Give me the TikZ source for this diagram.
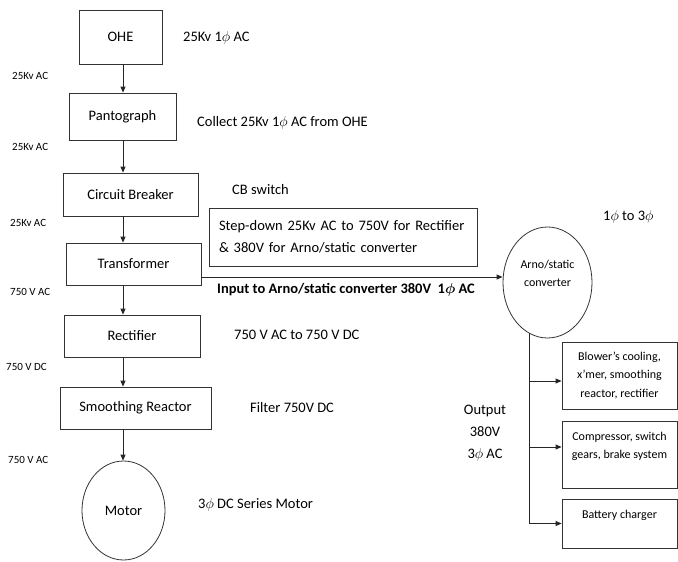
\documentclass[tikz,border=0pt]{standalone}
\usepackage{fontspec}
\setmainfont{Carlito}
\usetikzlibrary{shapes.geometric,arrows.meta,positioning,calc}

\tikzset{
  block/.style={draw=black!80, line width=0.8pt, inner sep=0pt, font=\fontsize{14.5}{17}\selectfont},
  rnd/.style={block, ellipse},
  note/.style={anchor=west, inner sep=0pt, font=\fontsize{14.5}{17}\selectfont},
  tag/.style={anchor=west, inner sep=0pt, font=\fontsize{11}{12}\selectfont},
  load/.style={block, minimum width=115pt, align=center, font=\fontsize{12}{18.5}\selectfont},
  wire/.style={line width=0.8pt, draw=black!85},
  arr/.style={wire, -{Triangle[length=6pt,width=5pt]}},
}

\begin{document}
\begin{tikzpicture}[x=1pt,y=-1pt]
\useasboundingbox (0,0) rectangle (678,562);

% Main chain
\node[block, minimum width=83pt, minimum height=54pt] (ohe) at (120.5,37) {OHE};
\node[block, minimum width=107pt, minimum height=47pt] (pant) at (122.5,116.5) {Pantograph};
\node[block, minimum width=135pt, minimum height=43pt] (cb) at (130.5,194.5) {Circuit Breaker};
\node[block, minimum width=135pt, minimum height=42pt] (tr) at (133.5,264) {Transformer};
\node[block, minimum width=136pt, minimum height=42pt] (rect) at (132,336) {Rectifier};
\node[block, minimum width=151pt, minimum height=42pt] (smr) at (135.5,408) {Smoothing Reactor};
\node[rnd, minimum width=83pt, minimum height=99pt] (motor) at (123.5,510.5) {Motor};

\coordinate (col) at (123,0);
\draw[arr] (ohe.south -| col) -- (pant.north -| col);
\draw[arr] (pant.south -| col) -- (cb.north -| col);
\draw[arr] (cb.south -| col) -- (tr.north -| col);
\draw[arr] (tr.south -| col) -- (rect.north -| col);
\draw[arr] (rect.south -| col) -- (smr.north -| col);
\draw[arr] (smr.south -| col) -- (motor.north -| col);

% Voltages on the left
\node[tag] (v1) at (12,76) {25Kv AC};
\node[tag] (v2) at (12,147) {25Kv AC};
\node[tag] (v3) at (10,223) {25Kv AC};
\node[tag] (v4) at (10,292) {750 V AC};
\node[tag] (v5) at (6,367) {750 V DC};
\node[tag] (v6) at (8,460) {750 V AC};

% Notes on the right
\node[note] (n1) at (183,38) {25Kv 1$\phi$ AC};
\node[note] (n2) at (197,123) {Collect 25Kv 1$\phi$ AC from OHE};
\node[note] (n3) at (232,190) {CB switch};
\node[block, minimum height=58pt, text width=248pt, inner xsep=10pt, align=left,
      font=\fontsize{14.5}{22}\selectfont] (step) at (343,237)
  {Step-down 25Kv AC to 750V for Rectifier\\\& 380V for Arno/static converter};
\node[note] (n4) at (234,335) {750 V AC to 750 V DC};
\node[note] (n5) at (250,408) {Filter 750V DC};
\node[note] (n6) at (198,505) {3$\phi$ DC Series Motor};

% Arno/static converter branch
\node[rnd, minimum width=89pt, minimum height=111pt, align=center,
      font=\fontsize{12}{18}\selectfont] (arno) at (547.5,282.5)
  {Arno/static\\converter\\\mbox{}};
\coordinate (feed) at ([yshift=-13pt]tr.east);
\draw[arr] (feed) -- (feed -| arno.west);
\node[note, font=\fontsize{14.5}{17}\selectfont\bfseries\boldmath] (inp) at (217,290)
  {Input to Arno/static converter 380V \ 1$\phi$ AC};
\node[note] (ph) at (603,217) {1$\phi$ to 3$\phi$};

% Loads
\node[load, minimum height=67pt] (b1) at (619.5,375.5)
  {Blower's cooling,\\x'mer, smoothing\\reactor, rectifier};
\node[load, minimum height=67pt] (b2) at (619.5,454.5)
  {Compressor, switch\\gears, brake system\\\mbox{}};
\node[load, minimum height=49pt] (b3) at (619.5,523.5)
  {Battery charger\\\mbox{}};
\coordinate (in1) at ([yshift=-5.5pt]b1.west);
\coordinate (in2) at ([yshift=7.5pt]b2.west);
\draw[wire] (arno.250) -- (arno.250 |- b3.west);
\draw[arr] (arno.250 |- in1) -- (in1);
\draw[arr] (arno.250 |- in2) -- (in2);
\draw[arr] (arno.250 |- b3.west) -- (b3.west);
\node[align=center, inner sep=0pt, font=\fontsize{14.5}{22}\selectfont] (outp) at (485,433)
  {Output\\380V\\3$\phi$ AC};
\end{tikzpicture}
\end{document}
